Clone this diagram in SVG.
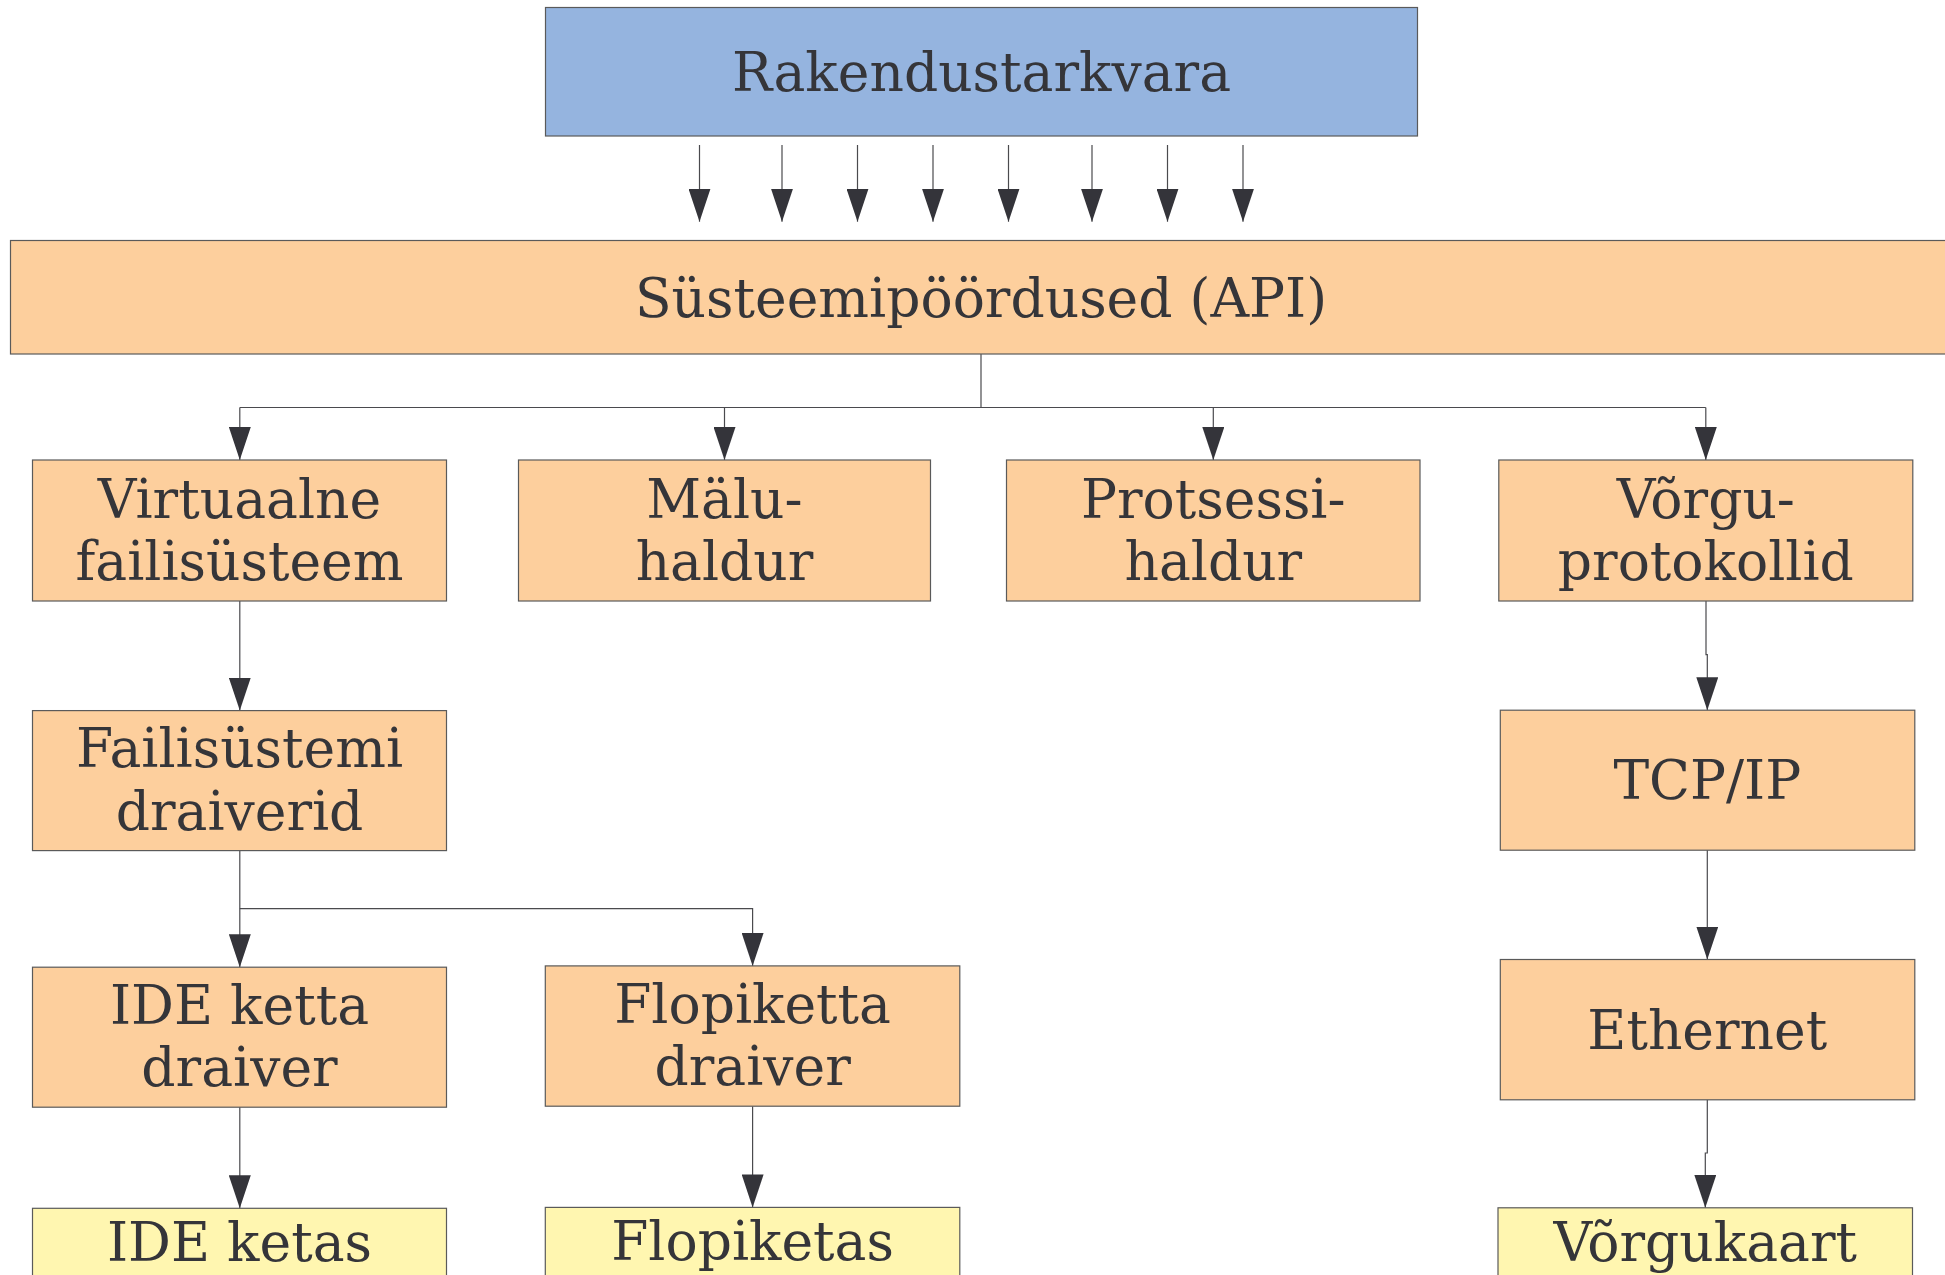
<svg xmlns="http://www.w3.org/2000/svg" width="1945" height="1275" viewBox="0 0 1945 1275">
<defs>
<style>
.box{stroke:#5a5a5a;stroke-width:1.2}
.blue{fill:#95b4df}
.orange{fill:#fdcf9d}
.yellow{fill:#fff6b0}
.t{font-family:'DejaVu Serif',serif;font-size:53.5px;fill:#353539;text-anchor:middle}
.c{fill:none;stroke:#4a4a4e;stroke-width:1.2}
</style>
<marker id="ah" markerUnits="userSpaceOnUse" markerWidth="34" markerHeight="22" refX="33" refY="11" orient="auto" viewBox="0 0 34 22">
<path d="M0,0 L33,11 L0,22 z" fill="#34343a"/>
</marker>
</defs>
<rect width="1945" height="1275" fill="#ffffff"/>

<g id="connectors">
<path class="c" d="M699.5,145 V221.7" marker-end="url(#ah)"/>
<path class="c" d="M782,145 V221.7" marker-end="url(#ah)"/>
<path class="c" d="M857.5,145 V221.7" marker-end="url(#ah)"/>
<path class="c" d="M933,145 V221.7" marker-end="url(#ah)"/>
<path class="c" d="M1008.5,145 V221.7" marker-end="url(#ah)"/>
<path class="c" d="M1092,145 V221.7" marker-end="url(#ah)"/>
<path class="c" d="M1167.5,145 V221.7" marker-end="url(#ah)"/>
<path class="c" d="M1243,145 V221.7" marker-end="url(#ah)"/>
<path class="c" d="M981,354 V407.5"/>
<path class="c" d="M239.8,407.5 H1705.8"/>
<path class="c" d="M239.8,407.5 V460" marker-end="url(#ah)"/>
<path class="c" d="M724.5,407.5 V460" marker-end="url(#ah)"/>
<path class="c" d="M1213.3,407.5 V460" marker-end="url(#ah)"/>
<path class="c" d="M1705.8,407.5 V460" marker-end="url(#ah)"/>
<path class="c" d="M239.8,601 V710.6" marker-end="url(#ah)"/>
<path class="c" d="M239.8,850.5 V967.2" marker-end="url(#ah)"/>
<path class="c" d="M239.8,908.7 H752.6 V965.9" marker-end="url(#ah)"/>
<path class="c" d="M239.8,1107 V1208.3" marker-end="url(#ah)"/>
<path class="c" d="M752.6,1106.2 V1207.4" marker-end="url(#ah)"/>
<path class="c" d="M1706,601 V654.7 H1707.3 V710.2" marker-end="url(#ah)"/>
<path class="c" d="M1707.3,850.1 V959.5" marker-end="url(#ah)"/>
<path class="c" d="M1707.3,1099.8 V1153 H1705.3 V1207.8" marker-end="url(#ah)"/>
</g>

<g id="rakendustarkvara">
<rect class="box blue" x="545.5" y="7.5" width="872" height="128.5"/>
<text class="t" x="981.5" y="90.5">Rakendustarkvara</text>
</g>
<g id="api">
<rect class="box orange" x="10.5" y="240.5" width="1945" height="113.5"/>
<text class="t" x="981" y="316.7">Süsteemipöördused (API)</text>
</g>
<g id="virtuaalne">
<rect class="box orange" x="32.5" y="460" width="414" height="141"/>
<text class="t" x="239.5" y="518.3">Virtuaalne</text>
<text class="t" x="239.5" y="580">failisüsteem</text>
</g>
<g id="malu">
<rect class="box orange" x="518.5" y="460" width="412" height="141"/>
<text class="t" x="724.5" y="518.3">Mälu-</text>
<text class="t" x="724.5" y="580">haldur</text>
</g>
<g id="protsessi">
<rect class="box orange" x="1006.5" y="460" width="413.5" height="141"/>
<text class="t" x="1213.3" y="518.3">Protsessi-</text>
<text class="t" x="1213.3" y="580">haldur</text>
</g>
<g id="vorgu">
<rect class="box orange" x="1498.8" y="460" width="414" height="141"/>
<text class="t" x="1705.8" y="518.3">Võrgu-</text>
<text class="t" x="1705.8" y="580">protokollid</text>
</g>
<g id="failisusteemi">
<rect class="box orange" x="32.5" y="710.6" width="414" height="140"/>
<text class="t" x="239.5" y="767">Failisüstemi</text>
<text class="t" x="239.5" y="829.5">draiverid</text>
</g>
<g id="tcpip">
<rect class="box orange" x="1500.3" y="710.2" width="414.5" height="140"/>
<text class="t" x="1707.3" y="798.9">TCP/IP</text>
</g>
<g id="ideketta">
<rect class="box orange" x="32.5" y="967.2" width="414" height="140"/>
<text class="t" x="239.5" y="1024">IDE ketta</text>
<text class="t" x="239.5" y="1086.4">draiver</text>
</g>
<g id="flopiketta">
<rect class="box orange" x="545.3" y="965.9" width="414.5" height="140.3"/>
<text class="t" x="752.6" y="1022.7">Flopiketta</text>
<text class="t" x="752.6" y="1085">draiver</text>
</g>
<g id="ethernet">
<rect class="box orange" x="1500.3" y="959.5" width="414.5" height="140.3"/>
<text class="t" x="1707.3" y="1049">Ethernet</text>
</g>
<g id="ideketas">
<rect class="box yellow" x="32.5" y="1208.3" width="414" height="80"/>
<text class="t" x="239.5" y="1260.8">IDE ketas</text>
</g>
<g id="flopiketas">
<rect class="box yellow" x="545.3" y="1207.4" width="414.5" height="80"/>
<text class="t" x="752.6" y="1260">Flopiketas</text>
</g>
<g id="vorgukaart">
<rect class="box yellow" x="1498" y="1207.8" width="414.5" height="80"/>
<text class="t" x="1705.3" y="1260.8">Võrgukaart</text>
</g>
</svg>
